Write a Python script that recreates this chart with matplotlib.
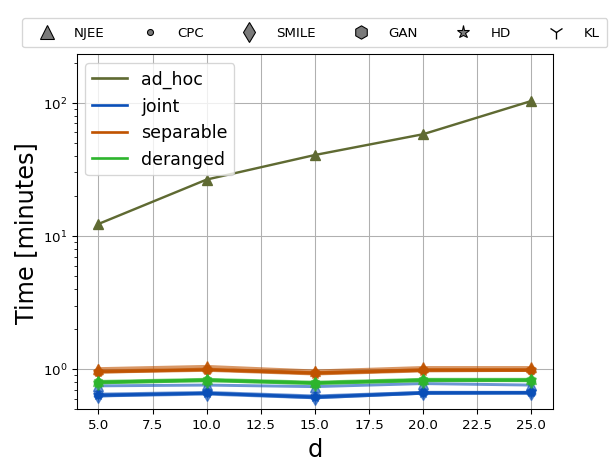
import matplotlib
matplotlib.use("Agg")
import matplotlib.pyplot as plt
from matplotlib.lines import Line2D

d_values = [5, 10, 15, 20, 25]
methods = ["NJEE", "CPC", "SMILE", "GAN", "HD", "KL"]
scenarios = ["ad_hoc", "joint", "separable", "deranged"]

# ad_hoc only has NJEE
ad_hoc_njee = [12.3, 26.5, 40.5, 58.0, 103.0]

# time in minutes per scenario and method
joint = {
    "NJEE":  [0.75, 0.76, 0.74, 0.78, 0.76],
    "CPC":   [0.64, 0.66, 0.62, 0.67, 0.67],
    "SMILE": [0.63, 0.65, 0.61, 0.66, 0.66],
    "GAN":   [0.65, 0.67, 0.63, 0.67, 0.67],
    "HD":    [0.64, 0.66, 0.62, 0.66, 0.67],
    "KL":    [0.63, 0.66, 0.61, 0.66, 0.66],
}
separable = {
    "NJEE":  [1.01, 1.05, 0.97, 1.03, 1.03],
    "CPC":   [0.95, 0.99, 0.93, 0.98, 0.98],
    "SMILE": [0.97, 1.00, 0.94, 0.99, 0.99],
    "GAN":   [0.96, 0.99, 0.93, 0.98, 0.98],
    "HD":    [0.95, 0.98, 0.92, 0.97, 0.98],
    "KL":    [0.96, 1.00, 0.94, 0.99, 0.99],
}
deranged = {
    "NJEE":  [0.81, 0.84, 0.80, 0.84, 0.84],
    "CPC":   [0.80, 0.83, 0.79, 0.83, 0.83],
    "SMILE": [0.79, 0.82, 0.78, 0.82, 0.82],
    "GAN":   [0.80, 0.83, 0.79, 0.83, 0.83],
    "HD":    [0.79, 0.82, 0.78, 0.82, 0.83],
    "KL":    [0.80, 0.83, 0.79, 0.83, 0.82],
}

colors = {"ad_hoc": "#5f6a32", "joint": "#0a4fb8",
          "separable": "#c05300", "deranged": "#2db52d"}
markers = {"NJEE": "^", "CPC": "o", "SMILE": "d", "GAN": "h", "HD": "*", "KL": "1"}
msizes = {"NJEE": 7, "CPC": 5, "SMILE": 7, "GAN": 7, "HD": 8, "KL": 8}
leg_msizes = {"NJEE": 11, "CPC": 4.5, "SMILE": 11, "GAN": 10, "HD": 10, "KL": 11}

fig, ax = plt.subplots(figsize=(6.4, 4.8), dpi=96)

ax.plot(d_values, ad_hoc_njee, color=colors["ad_hoc"], marker="^", markersize=7.5, lw=1.8)
for name, data in [("joint", joint), ("separable", separable), ("deranged", deranged)]:
    for m in methods:
        ax.plot(d_values, data[m], color=colors[name], marker=markers[m],
                markersize=msizes[m], lw=2.2, alpha=0.6)

ax.set_yscale("log")
ax.set_ylim(0.5, 230)
ax.grid(True, which="major", color="#b0b0b0", lw=0.8)
ax.set_xlabel("d", fontsize=18)
ax.set_ylabel("Time [minutes]", fontsize=18)

scen_handles = [Line2D([0], [0], color=colors[s], lw=2) for s in scenarios]
ax.legend(scen_handles, scenarios, fontsize=13, loc="upper left")

meth_handles = []
for m in methods:
    if m == "KL":
        h = Line2D([0], [0], linestyle="none", marker="1", color="black",
                   markersize=leg_msizes[m], markeredgewidth=1.0)
    else:
        h = Line2D([0], [0], linestyle="none", marker=markers[m], markerfacecolor="#7a7a7a",
                   markeredgecolor="black", markersize=leg_msizes[m], markeredgewidth=0.8)
    meth_handles.append(h)
fig.legend(meth_handles, methods, loc="lower left", ncol=6, fontsize=10,
           bbox_to_anchor=(22 / 614, 1 - 48 / 461, (607 - 22) / 614, 0.05),
           mode="expand", borderaxespad=0, handlelength=2.5, borderpad=0.6)

fig.savefig("out.png", dpi=96)
